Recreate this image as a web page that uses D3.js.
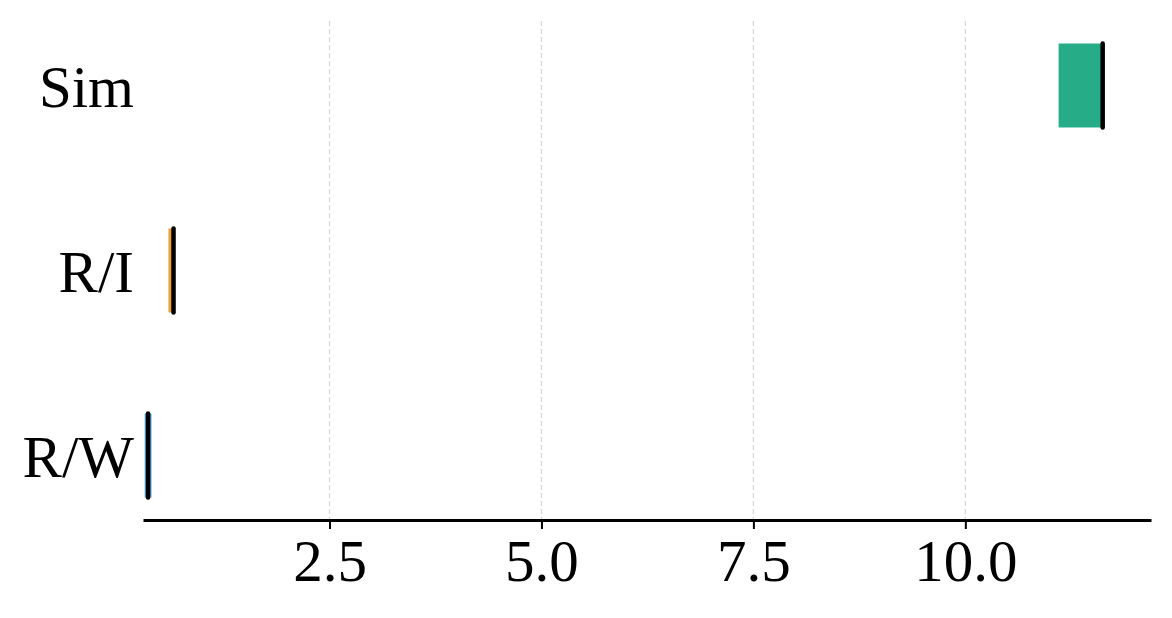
<!DOCTYPE html>
<html>
<head>
<meta charset="utf-8">
<script src="https://cdn.jsdelivr.net/npm/d3@7"></script>
<style>
  body { margin: 0; background: #fff; }
  text { font-family: "Liberation Serif", "Times New Roman", serif; }
</style>
</head>
<body>
<div id="chart"></div>
<script>
////////////////////////////////////////////////////////////////
// Data

let categories = ["Sim", "R/I", "R/W"]
let q1Values = [11.10, 0.60, 0.32]
let medianValues = [11.62, 0.66, 0.36]
let q3Values = [11.62, 0.66, 0.40]
let boxColors = ["#26ad88", "#e8a33a", "#4ca3dd"]
let tickValues = [2.5, 5.0, 7.5, 10.0]
let tickLabels = ["2.5", "5.0", "7.5", "10.0"]

////////////////////////////////////////////////////////////////
// Setup

let width = 1172, height = 618

let svg = d3.select("#chart").append("svg")
  .attr("width", width)
  .attr("height", height)

let x = d3.scaleLinear()
  .domain([0.30, 12.19])
  .range([143, 1151])

let y = d3.scalePoint()
  .domain(categories)
  .range([85.5, 455.5])

let boxH = 84
let axisY = 520

// dashed grid lines
svg.selectAll("line.grid")
  .data(tickValues)
  .enter()
  .append("line")
  .attr("class", "grid")
  .attr("x1", d => x(d))
  .attr("x2", d => x(d))
  .attr("y1", 21)
  .attr("y2", axisY)
  .attr("stroke", "#d8d8d8")
  .attr("stroke-width", 1.3)
  .attr("stroke-dasharray", "5,3")

// boxes
let rows = categories.map((c, i) => ({
  cat: c, q1: q1Values[i], med: medianValues[i], q3: q3Values[i], color: boxColors[i]
}))

svg.selectAll("rect.box")
  .data(rows)
  .enter()
  .append("rect")
  .attr("class", "box")
  .attr("x", d => x(d.q1))
  .attr("width", d => Math.max(x(d.q3) - x(d.q1), 1))
  .attr("y", d => y(d.cat) - boxH / 2)
  .attr("height", boxH)
  .attr("fill", d => d.color)

// median lines
svg.selectAll("line.median")
  .data(rows)
  .enter()
  .append("line")
  .attr("class", "median")
  .attr("x1", d => x(d.med))
  .attr("x2", d => x(d.med))
  .attr("y1", d => y(d.cat) - boxH / 2)
  .attr("y2", d => y(d.cat) + boxH / 2)
  .attr("stroke", "black")
  .attr("stroke-width", 4.5)
  .attr("stroke-linecap", "round")

// x axis
let xAxis = d3.axisBottom(x)
  .tickValues(tickValues)
  .tickFormat((d, i) => tickLabels[i])
  .tickSize(9)
  .tickSizeOuter(0)
  .tickPadding(10)

let gx = svg.append("g")
  .attr("transform", `translate(0,${axisY})`)
  .call(xAxis)

gx.select(".domain")
  .attr("stroke", "black")
  .attr("stroke-width", 2.8)
gx.selectAll(".tick line")
  .attr("stroke", "black")
  .attr("stroke-width", 2)
gx.selectAll(".tick text")
  .attr("font-family", "Liberation Serif, Times New Roman, serif")
  .attr("font-size", 59)
  .attr("fill", "black")

// category labels
svg.selectAll("text.cat")
  .data(categories)
  .enter()
  .append("text")
  .attr("class", "cat")
  .attr("x", 134)
  .attr("y", d => y(d))
  .attr("dy", "0.36em")
  .attr("text-anchor", "end")
  .attr("font-size", 59)
  .attr("fill", "black")
  .text(d => d)
</script>
</body>
</html>
